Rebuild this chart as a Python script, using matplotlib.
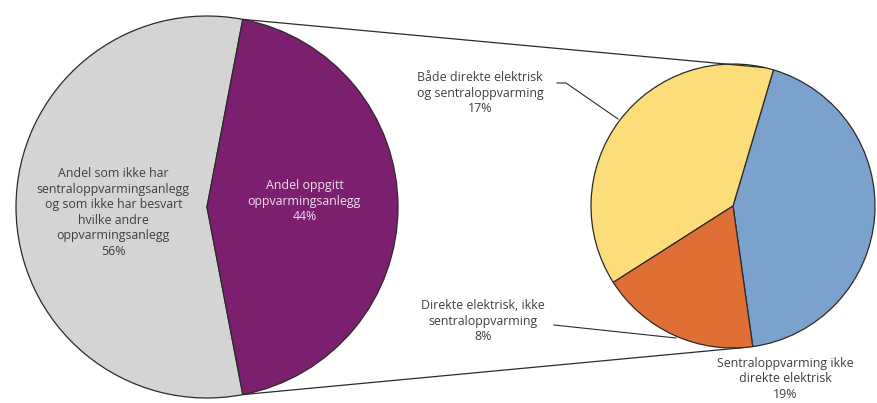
import matplotlib
matplotlib.use("Agg")
import matplotlib.pyplot as plt
from matplotlib.patches import ConnectionPatch
import numpy as np

plt.rcParams['font.family'] = ['Open Sans', 'DejaVu Sans']

# Main split
main_labels = ['Andel som ikke har\nsentraloppvarmingsanlegg\nog som ikke har besvart\nhvilke andre\noppvarmingsanlegg',
               'Andel oppgitt\noppvarmingsanlegg']
main_values = [56, 44]
main_colors = ['#d4d4d4', '#7b1f6e']

# Breakdown of the 44 %
sub_labels = ['Sentraloppvarming ikke\ndirekte elektrisk',
              'Både direkte elektrisk\nog sentraloppvarming',
              'Direkte elektrisk, ikke\nsentraloppvarming']
sub_values = [19, 17, 8]
sub_colors = ['#7aa2cc', '#fddc7a', '#e06f35']

W, H = 877, 403
fig = plt.figure(figsize=(W / 100, H / 100), dpi=100)

def pie_axes(cx, cy, r, pad=1.04):
    rr = r * pad
    return fig.add_axes([(cx - rr) / W, (H - cy - rr) / H, 2 * rr / W, 2 * rr / H])

edge = dict(edgecolor='#2b2b2b', linewidth=0.9)
txt_col = '#404040'
fs = 8.9

# left pie, purple wedge centred on the right side
ax1 = pie_axes(207, 207, 191)
start1 = 360 * main_values[1] / sum(main_values) / 2
ax1.pie(main_values, colors=main_colors, startangle=start1, counterclock=True,
        radius=1, wedgeprops=edge)
ax1.set_xlim(-1.04, 1.04)
ax1.set_ylim(-1.04, 1.04)
ax1.text(-0.49, -0.03, main_labels[0] + f'\n{main_values[0]}%', ha='center', va='center',
         fontsize=fs, color=txt_col, linespacing=1.25)
ax1.text(0.51, 0.03, main_labels[1] + f'\n{main_values[1]}%', ha='center', va='center',
         fontsize=fs, color='#eddfeb', linespacing=1.25)

ax2 = pie_axes(733, 206, 142)
ax2.pie(sub_values, colors=sub_colors, startangle=-82, counterclock=True,
        radius=1, wedgeprops=edge)
ax2.set_xlim(-1.04, 1.04)
ax2.set_ylim(-1.04, 1.04)

# Lines joining the purple wedge to the breakdown pie
a_top = np.deg2rad(start1)
for sgn, ang2 in [(1, 77), (-1, -86)]:
    p1 = (np.cos(a_top), sgn * np.sin(a_top))
    p2 = (np.cos(np.deg2rad(ang2)), np.sin(np.deg2rad(ang2)))
    con = ConnectionPatch(xyA=p1, coordsA=ax1.transData, xyB=p2, coordsB=ax2.transData,
                          color='#2b2b2b', linewidth=0.9)
    fig.add_artist(con)

# Labels for the breakdown
def px(x, y):
    return (x / W, 1 - y / H)

fig.text(*px(785, 379), sub_labels[0] + f'\n{sub_values[0]}%', ha='center', va='center',
         fontsize=fs, color=txt_col, linespacing=1.2)
fig.text(*px(480, 93), sub_labels[1] + f'\n{sub_values[1]}%', ha='center', va='center',
         fontsize=fs, color=txt_col, linespacing=1.25)
fig.text(*px(483, 321), sub_labels[2] + f'\n{sub_values[2]}%', ha='center', va='center',
         fontsize=fs, color=txt_col, linespacing=1.25)

# Leader lines
fig.add_artist(plt.Line2D([557 / W, 566 / W, 618 / W], [1 - 83 / H, 1 - 83 / H, 1 - 119 / H],
                          color='#2b2b2b', linewidth=0.8))
fig.add_artist(plt.Line2D([554 / W, 676 / W], [1 - 325 / H, 1 - 338 / H],
                          color='#2b2b2b', linewidth=0.8))

fig.savefig('out.png', dpi=100)
